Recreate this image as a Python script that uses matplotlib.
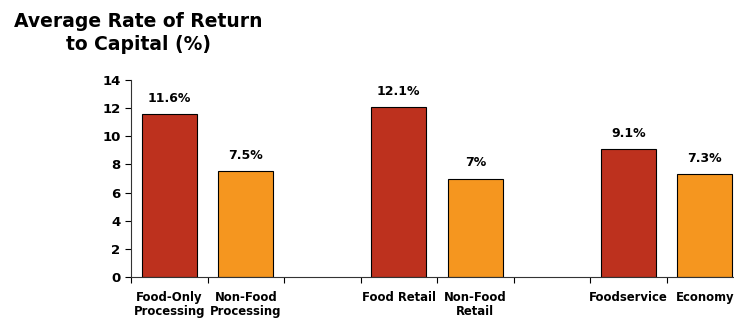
import numpy as np
import matplotlib.pyplot as plt

labels = ['Food-Only\nProcessing', 'Non-Food\nProcessing', '',
          'Food Retail', 'Non-Food\nRetail', '',
          'Foodservice', 'Economy']
values = [11.6, 7.5, None, 12.1, 7.0, None, 9.1, 7.3]
value_text = ['11.6%', '7.5%', '', '12.1%', '7%', '', '9.1%', '7.3%']
kinds = ['food', 'nonfood', None, 'food', 'nonfood', None, 'food', 'nonfood']

colors = {'food': '#BD311E', 'nonfood': '#F5961F'}

plt.rcParams['font.family'] = ['DejaVu Sans']
fig = plt.figure(figsize=(7.34, 3.2), dpi=100)
ax = fig.add_axes([131 / 734, 1 - 277 / 320, 612 / 734, 197 / 320])

x = np.arange(len(labels))
for i, v in enumerate(values):
    if v is None:
        continue
    ax.bar(x[i], v, width=0.72, color=colors[kinds[i]],
           edgecolor='black', linewidth=0.8, zorder=2)
    ax.text(x[i], v + 0.65, value_text[i], ha='center', va='bottom',
            fontsize=9, fontweight='bold')

ax.set_xlim(-0.5, len(labels) - 0.5)
ax.set_ylim(0, 14)
ax.set_yticks(np.arange(0, 15, 2))
ax.set_xticks(np.arange(-0.5, len(labels), 1.0))
ax.set_xticklabels([])
ax.set_xticks(x, minor=True)
ax.set_xticklabels(labels, minor=True, fontsize=8.4, fontweight='bold',
                   linespacing=1.15)
ax.tick_params(axis='x', which='minor', length=0, pad=10)
ax.tick_params(axis='x', which='major', length=4, direction='out')
ax.tick_params(axis='y', length=4, direction='out', labelsize=9.5)
for lbl in ax.get_yticklabels():
    lbl.set_fontweight('bold')

ax.spines['top'].set_visible(False)
ax.spines['right'].set_visible(False)
ax.spines['left'].set_color('#333333')
ax.spines['bottom'].set_color('#333333')

fig.text(138 / 734, 1 - 12 / 320, 'Average Rate of Return\nto Capital (%)',
         ha='center', va='top', fontsize=13.5, fontweight='bold',
         linespacing=1.25)

fig.savefig('out.png', dpi=100)
